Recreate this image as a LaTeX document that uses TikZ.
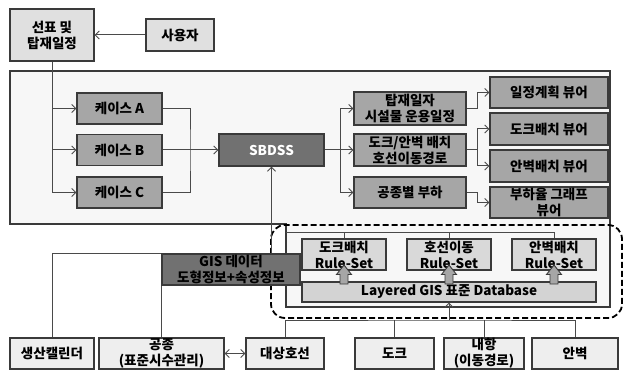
\documentclass[tikz,border=0pt]{standalone}
\usepackage{fontspec}
\setmainfont{Noto Sans CJK KR}
\usetikzlibrary{arrows.meta}
\definecolor{edgegray}{HTML}{3A3A3A}
\definecolor{linegray}{HTML}{4A4A4A}
\definecolor{panelgray}{HTML}{F7F7F7}
\definecolor{lightgray}{HTML}{E0E0E0}
\definecolor{midgray}{HTML}{A6A6A6}
\definecolor{darkgray}{HTML}{717171}
\definecolor{rulegray}{HTML}{D9D9D9}
\definecolor{dbgray}{HTML}{D3D3D3}
\definecolor{srcgray}{HTML}{EEEEEE}
\begin{document}
\begin{tikzpicture}[x=1pt,y=-1pt,>={Straight Barb[length=4pt,width=8pt]},
  box/.style={draw=edgegray,line width=1.1pt,align=center,inner sep=0pt,
    font=\bfseries\fontsize{13.5}{16}\selectfont},
  wh/.style 2 args={minimum width=#1,minimum height=#2},
  conn/.style={draw=linegray,line width=1pt},
  fatarrow/.style={draw=edgegray,fill=midgray,line width=0.9pt}]
  \useasboundingbox (0,0) rectangle (624,374);
  % outer panel with its lower extension
  \draw[draw=edgegray,line width=1.1pt,fill=panelgray]
    (10,71) -- (610,71) -- (610,307) -- (286,307) -- (286,224) -- (10,224) -- cycle;
  \draw[line width=1.8pt,dash pattern=on 6pt off 3pt,rounded corners=14pt]
    (271,225) rectangle (622,318);

  % top row
  \node[box,wh={84}{52},fill=lightgray] (plan) at (52,35) {선표 및\\탑재일정};
  \node[box,wh={68}{32},fill=lightgray] (user) at (180,35) {사용자};
  \draw[conn,->] (user.west) -- (plan.east);

  % cases
  \node[box,wh={85}{31},fill=midgray] (caseA) at (119.5,108.5) {케이스 A};
  \node[box,wh={85}{31},fill=midgray] (caseB) at (119.5,150) {케이스 B};
  \node[box,wh={85}{31},fill=midgray] (caseC) at (119.5,192.5) {케이스 C};
  \draw[conn,->] (plan.south) |- (caseC.west);
  \draw[conn,->] (plan.south |- caseA.west) -- (caseA.west);
  \draw[conn,->] (plan.south |- caseB.west) -- (caseB.west);

  \node[box,wh={105}{32},fill=darkgray,text=white] (sbdss) at (271.5,150) {SBDSS};
  \coordinate (ljoin) at (190,150);
  \draw[conn] (caseA.east) -| (ljoin) |- (caseC.east);
  \draw[conn,->] (caseB.east) -- (sbdss.west);

  % outputs
  \node[box,wh={112}{33},fill=midgray] (load) at (410,108.5) {탑재일자\\시설물 운용일정};
  \node[box,wh={112}{32},fill=midgray] (berth) at (410,150) {도크/안벽 배치\\호선이동경로};
  \node[box,wh={112}{31},fill=midgray] (work) at (410,192.5) {공종별 부하};
  \coordinate (mjoin) at (340,150);
  \draw[conn] (sbdss.east) -- (mjoin);
  \draw[conn,->] (mjoin) |- (load.west);
  \draw[conn,->] (mjoin) -- (berth.west);
  \draw[conn,->] (mjoin) |- (work.west);

  % viewers
  \node[box,wh={118}{31},fill=midgray] (vplan) at (549,92.5) {일정계획 뷰어};
  \node[box,wh={118}{32},fill=midgray] (vdock) at (549,129) {도크배치 뷰어};
  \node[box,wh={118}{32},fill=midgray] (vquay) at (549,166) {안벽배치 뷰어};
  \node[box,wh={118}{31},fill=midgray] (vload) at (549,202.5) {부하율 그래프\\뷰어};
  \coordinate (rjoin) at (477,150);
  \draw[conn,->] (load.east) -- (load.east -| rjoin) |- (vplan.west);
  \draw[conn] (berth.east) -- (rjoin);
  \draw[conn,->] (rjoin) |- (vdock.west);
  \draw[conn,->] (rjoin) |- (vquay.west);
  \draw[conn,->] (work.east) -- (work.east -| rjoin) |- (vload.west);

  % GIS part
  \node[box,wh={84}{31},fill=rulegray] (rsdock) at (344,254.5) {도크배치\\Rule-Set};
  \node[box,wh={84}{31},fill=rulegray] (rsship) at (449,254.5) {호선이동\\Rule-Set};
  \node[box,wh={84}{31},fill=rulegray] (rsquay) at (554,254.5) {안벽배치\\Rule-Set};
  \node[box,wh={294}{20},fill=dbgray] (db) at (449,292) {Layered GIS 표준 Database};
  \coordinate (tbus) at (286,233);
  \draw[conn] (tbus) -| (rsquay.north);
  \draw[conn] (rsdock.north) -- (rsdock.north |- tbus);
  \draw[conn] (rsship.north) -- (rsship.north |- tbus);
  \foreach \ax in {344,449,554}
    \draw[fatarrow] (\ax-4,284) -- (\ax-4,274.5) -- (\ax-7.5,274.5) -- (\ax,265)
      -- (\ax+7.5,274.5) -- (\ax+4,274.5) -- (\ax+4,284) -- cycle;

  \node[box,wh={138}{31},fill=darkgray] (gis) at (231,269.5) {GIS 데이터\\도형정보+속성정보};
  \draw[conn,->] (gis.north -| sbdss.south) -- (sbdss.south);

  % sources
  \node[box,wh={84}{31},fill=srcgray] (cal) at (52,353.5) {생산캘린더};
  \node[box,wh={125}{31},fill=srcgray] (gong) at (161.5,353.5) {공종\\(표준시수관리)};
  \node[box,wh={78}{31},fill=srcgray] (ship) at (285,353.5) {대상호선};
  \node[box,wh={79}{31},fill=srcgray] (dock) at (394.5,353.5) {도크};
  \node[box,wh={80}{31},fill=srcgray] (inner) at (484,353.5) {내항\\(이동경로)};
  \node[box,wh={86}{31},fill=srcgray] (quay) at (575,353.5) {안벽};
  \draw[conn] (cal.north) |- (gis.north west);
  \draw[conn] (gong.north) -- (gong.north |- gis.south);
  \draw[conn,<->] (gong.east) -- (ship.west);
  \coordinate (bbus) at (449,320);
  \draw[conn] (ship.north) |- (bbus) -| (quay.north);
  \draw[conn] (dock.north) -- (dock.north |- bbus);
  \draw[conn] (inner.north) -- (inner.north |- bbus);
  \draw[conn,->] (bbus) -- (db.south);
\end{tikzpicture}
\end{document}
